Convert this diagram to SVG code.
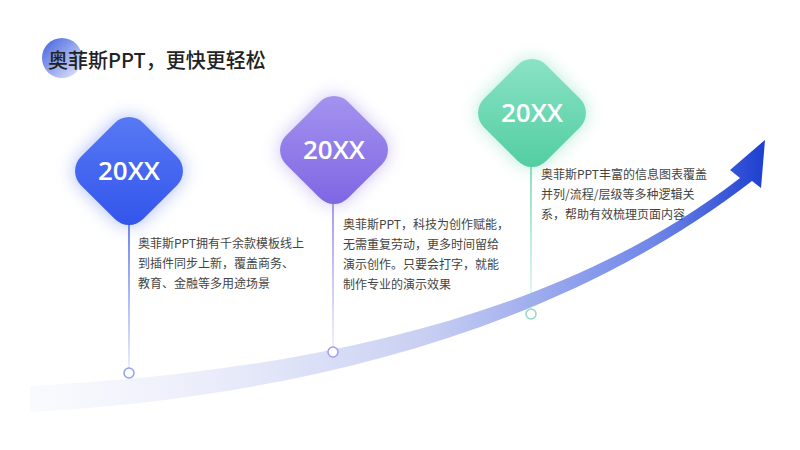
<svg xmlns="http://www.w3.org/2000/svg" width="800" height="450" viewBox="0 0 800 450">
<defs>
<linearGradient id="band" x1="30" y1="0" x2="765" y2="0" gradientUnits="userSpaceOnUse">
<stop offset="0" stop-color="#eef0fb" stop-opacity="0.3"/>
<stop offset="0.55" stop-color="#c6cdf2"/>
<stop offset="0.85" stop-color="#6f86e8"/>
<stop offset="1" stop-color="#1d3fd0"/>
</linearGradient>
<linearGradient id="g1" x1="0" y1="0" x2="1" y2="1"><stop offset="0" stop-color="#5a7cf6"/><stop offset="1" stop-color="#3052ea"/></linearGradient>
<linearGradient id="g2" x1="0" y1="0" x2="1" y2="1"><stop offset="0" stop-color="#a796f0"/><stop offset="1" stop-color="#7b63e2"/></linearGradient>
<linearGradient id="g3" x1="0" y1="0" x2="1" y2="1"><stop offset="0" stop-color="#8ee4c8"/><stop offset="1" stop-color="#4fcc9f"/></linearGradient>
<linearGradient id="l1" x1="0" y1="220" x2="0" y2="368" gradientUnits="userSpaceOnUse"><stop offset="0" stop-color="#3a5ae8"/><stop offset="1" stop-color="#3a5ae8" stop-opacity="0.15"/></linearGradient>
<linearGradient id="l2" x1="0" y1="200" x2="0" y2="347" gradientUnits="userSpaceOnUse"><stop offset="0" stop-color="#8d72e6"/><stop offset="1" stop-color="#8d72e6" stop-opacity="0.15"/></linearGradient>
<linearGradient id="l3" x1="0" y1="160" x2="0" y2="309" gradientUnits="userSpaceOnUse"><stop offset="0" stop-color="#5fd3aa"/><stop offset="1" stop-color="#5fd3aa" stop-opacity="0.15"/></linearGradient>
<linearGradient id="dot" x1="0" y1="0" x2="1" y2="1"><stop offset="0" stop-color="#3f5fe0"/><stop offset="1" stop-color="#e8ecfb"/></linearGradient>
<filter id="sh" x="-50%" y="-50%" width="200%" height="200%"><feGaussianBlur stdDeviation="9"/></filter>
</defs>
<style>
.yr{font-family:"Open Sans","Noto Sans",sans-serif;font-size:26px;font-weight:600;fill:#fff;text-anchor:middle}
.tx{font-family:"Noto Sans CJK SC",sans-serif;font-size:12px;fill:#444}
.pt{fill:#fff;stroke-width:1.5}
</style>
<rect width="800" height="450" fill="#fff"/>
<circle cx="62" cy="58" r="20" fill="url(#dot)"/>
<text x="48" y="68" font-family="Noto Sans CJK SC,sans-serif" font-size="20" font-weight="500" fill="#222">奥菲斯PPT，更快更轻松</text>
<g id="connectors">
<path d="M30 386 C300 372 560 318 740 178 L730 170 L765 140 L761 188 L752 181 C560 330 300 397 30 412 Z" fill="url(#band)"/>
<line x1="129" y1="220" x2="129" y2="368" stroke="url(#l1)" stroke-width="1.5"/>
<line x1="333" y1="200" x2="333" y2="347" stroke="url(#l2)" stroke-width="1.5"/>
<line x1="531" y1="160" x2="531" y2="309" stroke="url(#l3)" stroke-width="1.5"/>
<circle class="pt" cx="129" cy="373" r="5" stroke="#8fa2ee"/>
<circle class="pt" cx="333" cy="352" r="5" stroke="#a898ee"/>
<circle class="pt" cx="531" cy="314" r="5" stroke="#8fdcc0"/>
</g>
<g id="n1">
<rect x="85" y="127" width="88" height="88" rx="20" transform="rotate(45 129 171)" fill="#5a78f0" opacity="0.5" filter="url(#sh)"/>
<rect x="85" y="127" width="88" height="88" rx="20" transform="rotate(45 129 171)" fill="url(#g1)"/>
<text class="yr" x="129" y="180">20XX</text>
<text class="tx"><tspan x="138" y="248">奥菲斯PPT拥有千余款模板线上</tspan><tspan x="138" y="268">到插件同步上新，覆盖商务、</tspan><tspan x="138" y="288">教育、金融等多用途场景</tspan></text>
</g>
<g id="n2">
<rect x="290" y="106" width="88" height="88" rx="20" transform="rotate(45 334 150)" fill="#9a86ea" opacity="0.5" filter="url(#sh)"/>
<rect x="290" y="106" width="88" height="88" rx="20" transform="rotate(45 334 150)" fill="url(#g2)"/>
<text class="yr" x="334" y="159">20XX</text>
<text class="tx"><tspan x="343" y="229">奥菲斯PPT，科技为创作赋能，</tspan><tspan x="343" y="249">无需重复劳动，更多时间留给</tspan><tspan x="343" y="269">演示创作。只要会打字，就能</tspan><tspan x="343" y="289">制作专业的演示效果</tspan></text>
</g>
<g id="n3">
<rect x="488" y="69" width="88" height="88" rx="20" transform="rotate(45 532 113)" fill="#6fd8b5" opacity="0.5" filter="url(#sh)"/>
<rect x="488" y="69" width="88" height="88" rx="20" transform="rotate(45 532 113)" fill="url(#g3)"/>
<text class="yr" x="532" y="122">20XX</text>
<text class="tx"><tspan x="541" y="179">奥菲斯PPT丰富的信息图表覆盖</tspan><tspan x="541" y="199">并列/流程/层级等多种逻辑关</tspan><tspan x="541" y="219">系，帮助有效梳理页面内容</tspan></text>
</g>
</svg>
